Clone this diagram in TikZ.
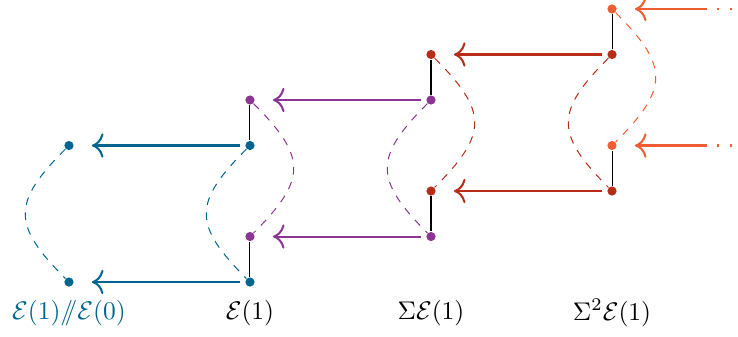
\documentclass[tikz,border=0pt]{standalone}
\usepackage{amsmath}
\usetikzlibrary{arrows.meta}
\definecolor{cblue}{RGB}{1,101,143}
\definecolor{cpurple}{RGB}{139,54,146}
\definecolor{cred}{RGB}{183,45,25}
\definecolor{corange}{RGB}{239,93,50}
\tikzset{
  dot/.style={circle, fill=#1, inner sep=0pt, minimum size=3.6pt},
  map/.style={-{To[scale=1.35]}, thick, draw=#1, shorten <=2pt, shorten >=7pt},
  cell/.style={dashed, draw=#1, looseness=1.5},
  link/.style={draw=black}
}
\begin{document}
\begin{tikzpicture}[x=2.494cm, y=0.627cm]
  \useasboundingbox (-0.381,-1.187) rectangle (3.696,6.198);

  % the dots, column/row/colour
  \foreach \c/\r/\col in {0/0/cblue, 0/3/cblue, 1/0/cblue, 1/3/cblue,
      1/1/cpurple, 1/4/cpurple, 2/1/cpurple, 2/4/cpurple,
      2/2/cred, 2/5/cred, 3/2/cred, 3/5/cred, 3/3/corange, 3/6/corange}
    \node[dot=\col] (d-\c-\r) at (\c,\r) {};

  % labels
  \node[text=cblue] (l-0) at (0,-0.68) {$\mathcal{E}(1)/\!\!/\mathcal{E}(0)$};
  \node (l-1) at (1,-0.68) {$\mathcal{E}(1)$};
  \node (l-2) at (2,-0.68) {$\Sigma\mathcal{E}(1)$};
  \node (l-3) at (3,-0.68) {$\Sigma^2\mathcal{E}(1)$};

  % cells
  \draw[cell=cblue] (d-0-3) to[out=-135, in=135] (d-0-0);
  \draw[cell=cblue] (d-1-3) to[out=-135, in=135] (d-1-0);
  \draw[cell=cpurple] (d-1-4) to[out=-45, in=45] (d-1-1);
  \draw[cell=cpurple] (d-2-4) to[out=-135, in=135] (d-2-1);
  \draw[cell=cred] (d-2-5) to[out=-45, in=45] (d-2-2);
  \draw[cell=cred] (d-3-5) to[out=-135, in=135] (d-3-2);
  \draw[cell=corange] (d-3-6) to[out=-45, in=45] (d-3-3);

  % attaching
  \draw[link] (d-1-0) -- (d-1-1);
  \draw[link] (d-1-3) -- (d-1-4);
  \draw[link] (d-2-1) -- (d-2-2);
  \draw[link] (d-2-4) -- (d-2-5);
  \draw[link] (d-3-2) -- (d-3-3);
  \draw[link] (d-3-5) -- (d-3-6);

  % maps
  \draw[map=cblue] (d-1-0) -- (d-0-0);
  \draw[map=cblue] (d-1-3) -- (d-0-3);
  \draw[map=cpurple] (d-2-1) -- (d-1-1);
  \draw[map=cpurple] (d-2-4) -- (d-1-4);
  \draw[map=cred] (d-3-2) -- (d-2-2);
  \draw[map=cred] (d-3-5) -- (d-2-5);

  \coordinate (t-3) at (3.514,3);
  \coordinate (t-6) at (3.514,6);
  \coordinate (e-3) at (3.9,3);
  \coordinate (e-6) at (3.9,6);
  \draw[map=corange, shorten <=0pt] (t-3) -- (d-3-3);
  \draw[map=corange, shorten <=0pt] (t-6) -- (d-3-6);
  \draw[corange, thick, loosely dotted] (t-3) -- (e-3);
  \draw[corange, thick, loosely dotted] (t-6) -- (e-6);
\end{tikzpicture}
\end{document}
